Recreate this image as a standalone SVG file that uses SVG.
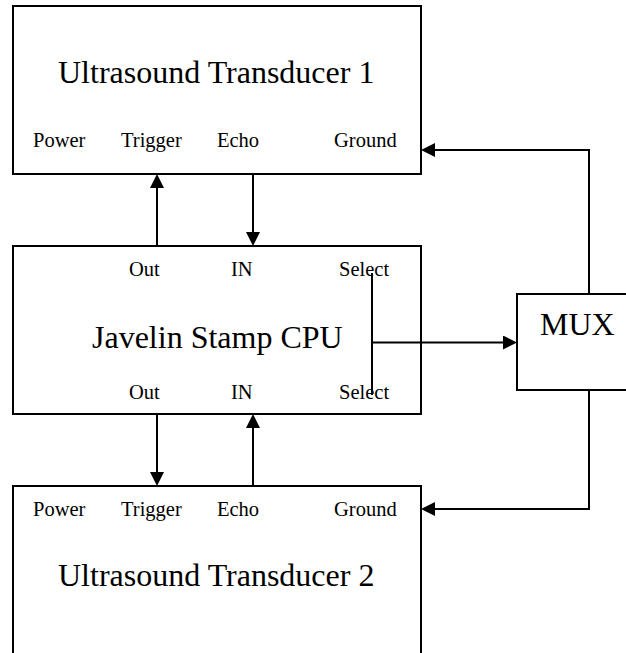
<svg xmlns="http://www.w3.org/2000/svg" width="626" height="653" viewBox="0 0 626 653">
<style>
.box{fill:#fff;stroke:#000;stroke-width:2}
.lbl{font-family:"Liberation Serif","Times New Roman",serif;font-size:20.5px;fill:#000}
.ttl{font-family:"Liberation Serif","Times New Roman",serif;font-size:32px;fill:#000}
.wire{fill:none;stroke:#000;stroke-width:2}
</style>
<defs>
<marker id="arr" markerUnits="userSpaceOnUse" markerWidth="14" markerHeight="14" refX="11" refY="7" orient="auto">
<path d="M0,0 L14,7 L0,14 z" fill="#000"/>
</marker>
</defs>
<rect width="626" height="653" fill="#fff"/>
<g id="transducer1">
<rect class="box" x="13" y="6" width="408" height="168"/>
<text class="ttl" x="58" y="83">Ultrasound Transducer 1</text>
<text class="lbl" x="33" y="147">Power</text>
<text class="lbl" x="121" y="147">Trigger</text>
<text class="lbl" x="217" y="147">Echo</text>
<text class="lbl" x="334" y="147">Ground</text>
</g>
<g id="cpu">
<rect class="box" x="13" y="246" width="408" height="168"/>
<text class="lbl" x="129" y="276">Out</text>
<text class="lbl" x="231" y="276">IN</text>
<text class="lbl" x="339" y="276">Select</text>
<text class="ttl" x="92" y="348">Javelin Stamp CPU</text>
<text class="lbl" x="129" y="399">Out</text>
<text class="lbl" x="231" y="399">IN</text>
<text class="lbl" x="339" y="399">Select</text>
</g>
<g id="mux">
<rect class="box" x="517" y="294" width="130" height="96"/>
<text class="ttl" x="540" y="335">MUX</text>
</g>
<g id="transducer2">
<rect class="box" x="13" y="486" width="408" height="200"/>
<text class="lbl" x="33" y="516">Power</text>
<text class="lbl" x="121" y="516">Trigger</text>
<text class="lbl" x="217" y="516">Echo</text>
<text class="lbl" x="334" y="516">Ground</text>
<text class="ttl" x="58" y="586">Ultrasound Transducer 2</text>
</g>
<g id="connectors">
<path class="wire" d="M157,246 V177" marker-end="url(#arr)"/>
<path class="wire" d="M253,174 V243" marker-end="url(#arr)"/>
<path class="wire" d="M157,414 V483" marker-end="url(#arr)"/>
<path class="wire" d="M253,486 V417" marker-end="url(#arr)"/>
<path class="wire" d="M372,273 V395"/>
<path class="wire" d="M372,342.5 H514" marker-end="url(#arr)"/>
<path class="wire" d="M589,294 V150 H424" marker-end="url(#arr)"/>
<path class="wire" d="M589,390 V509 H424" marker-end="url(#arr)"/>
</g>
</svg>
